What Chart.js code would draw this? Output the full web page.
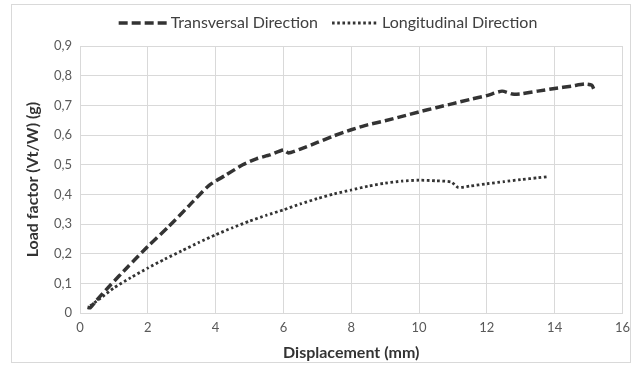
<!DOCTYPE html>
<html>
<head>
<meta charset="utf-8">
<script src="https://cdn.jsdelivr.net/npm/chart.js@4/dist/chart.umd.min.js"></script>
<style>
  html, body { margin: 0; padding: 0; background: #ffffff; }
  #wrap { width: 637px; height: 367px; position: relative; }
</style>
</head>
<body>
<div id="wrap"><canvas id="chart" width="637" height="367"></canvas></div>
<script>
// Displacement (mm) and load factor readings for each direction
const transversalX = [0.22, 0.3, 0.5, 0.9, 1.4, 2.0, 2.6, 3.2, 3.8, 4.3, 4.8, 5.2, 5.6, 6.0, 6.15, 6.5, 7.0, 7.5, 8.0, 8.5, 9.0, 9.5, 10.0, 10.5, 11.0, 11.5, 12.0, 12.45, 12.75, 13.0, 13.5, 14.0, 14.5, 14.9, 15.1, 15.15];
const transversalY = [0.02, 0.018, 0.045, 0.095, 0.155, 0.225, 0.29, 0.36, 0.43, 0.465, 0.5, 0.52, 0.533, 0.55, 0.54, 0.553, 0.575, 0.598, 0.618, 0.635, 0.648, 0.663, 0.678, 0.692, 0.706, 0.72, 0.733, 0.748, 0.738, 0.739, 0.748, 0.757, 0.765, 0.772, 0.768, 0.756];

const longitudinalX = [0.3, 0.6, 1.0, 1.5, 2.0, 2.5, 3.0, 3.5, 4.0, 4.5, 5.0, 5.5, 6.0, 6.5, 7.0, 7.5, 8.0, 8.5, 9.0, 9.5, 10.0, 10.5, 10.95, 11.15, 11.5, 12.0, 12.5, 13.0, 13.5, 13.8];
const longitudinalY = [0.025, 0.05, 0.085, 0.12, 0.152, 0.182, 0.21, 0.238, 0.264, 0.288, 0.31, 0.33, 0.348, 0.368, 0.386, 0.402, 0.415, 0.428, 0.438, 0.445, 0.448, 0.446, 0.442, 0.424, 0.428, 0.436, 0.443, 0.45, 0.456, 0.46];

const seriesNames = ['Transversal Direction', 'Longitudinal Direction'];
const xTickLabels = ['0', '2', '4', '6', '8', '10', '12', '14', '16'];
const yTickLabels = ['0', '0,1', '0,2', '0,3', '0,4', '0,5', '0,6', '0,7', '0,8', '0,9'];

const toPoints = (xs, ys) => xs.map((x, i) => ({ x: x, y: ys[i] }));

// Light frame around the whole chart
const framePlugin = {
  id: 'frame',
  afterDraw(chart) {
    const ctx = chart.ctx;
    ctx.save();
    ctx.strokeStyle = '#d9d9d9';
    ctx.lineWidth = 1;
    ctx.strokeRect(11.5, 4.5, 619, 358);
    ctx.restore();
  }
};

// Legend row: a dashed or dotted sample followed by the series name
const lineLegend = {
  id: 'lineLegend',
  afterDraw(chart) {
    const ctx = chart.ctx;
    const font = '16px Lato';
    const y = 23;
    const sampleW = [48, 46];
    const gapAfterSample = 4;
    const gapBetween = 14;
    ctx.save();
    ctx.font = font;
    const widths = chart.data.datasets.map(d => ctx.measureText(d.label).width);
    let total = 0;
    widths.forEach((w, i) => { total += sampleW[i] + gapAfterSample + w; });
    total += gapBetween * (widths.length - 1);
    let x = 328 - total / 2;
    chart.data.datasets.forEach((d, i) => {
      ctx.beginPath();
      ctx.setLineDash(d.borderDash);
      ctx.lineWidth = d.borderWidth;
      ctx.strokeStyle = d.borderColor;
      ctx.moveTo(x, y);
      ctx.lineTo(x + sampleW[i], y);
      ctx.stroke();
      ctx.setLineDash([]);
      x += sampleW[i] + gapAfterSample;
      ctx.fillStyle = '#404040';
      ctx.textBaseline = 'middle';
      ctx.textAlign = 'left';
      ctx.fillText(d.label, x, y);
      x += widths[i] + gapBetween;
    });
    ctx.restore();
  }
};

new Chart(document.getElementById('chart'), {
  type: 'line',
  data: {
    datasets: [
      {
        label: seriesNames[0],
        data: toPoints(transversalX, transversalY),
        borderColor: '#333333',
        borderWidth: 3.5,
        borderDash: [9, 4],
        pointRadius: 0,
        tension: 0.2,
        fill: false
      },
      {
        label: seriesNames[1],
        data: toPoints(longitudinalX, longitudinalY),
        borderColor: '#333333',
        borderWidth: 2.8,
        borderDash: [2.6, 2.6],
        pointRadius: 0,
        tension: 0.2,
        fill: false
      }
    ]
  },
  options: {
    responsive: false,
    animation: false,
    layout: { padding: { left: 14, right: 14, top: 46, bottom: 5 } },
    plugins: {
      legend: { display: false },
      tooltip: { enabled: false }
    },
    scales: {
      x: {
        type: 'linear',
        min: 0,
        max: 16,
        ticks: {
          stepSize: 2,
          color: '#595959',
          font: { family: 'Lato', size: 13 },
          padding: 7,
          callback: (v, i) => xTickLabels[i]
        },
        grid: { color: '#d9d9d9', lineWidth: 1, drawTicks: false },
        border: { color: '#d9d9d9' },
        title: {
          display: true,
          text: 'Displacement (mm)',
          color: '#333333',
          font: { family: 'Lato', size: 16, weight: 'bold' },
          padding: { top: 0, bottom: 0 }
        }
      },
      y: {
        min: 0,
        max: 0.9,
        ticks: {
          stepSize: 0.1,
          color: '#595959',
          font: { family: 'Lato', size: 13 },
          padding: 8,
          callback: (v, i) => yTickLabels[i]
        },
        grid: { color: '#d9d9d9', lineWidth: 1, drawTicks: false },
        border: { color: '#d9d9d9' },
        title: {
          display: true,
          text: 'Load factor (Vt/W) (g)',
          color: '#333333',
          font: { family: 'Lato', size: 16, weight: 'bold' },
          padding: { top: 9, bottom: 4 }
        },
        afterFit: (scale) => { scale.width = 66; }
      }
    }
  },
  plugins: [framePlugin, lineLegend]
});
</script>
</body>
</html>
